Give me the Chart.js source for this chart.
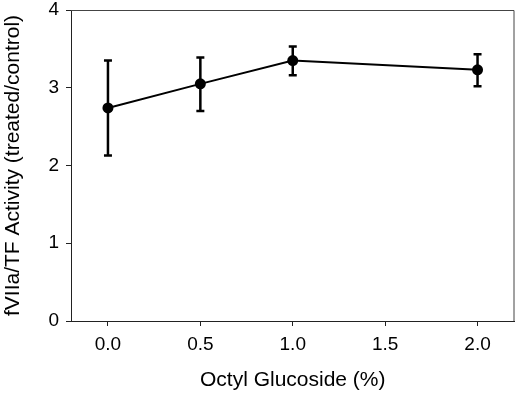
<!DOCTYPE html>
<html>
<head>
<meta charset="utf-8">
<script src="https://cdn.jsdelivr.net/npm/chart.js@4/dist/chart.umd.min.js"></script>
<style>
  html, body { margin: 0; padding: 0; background: #fff; }
  #wrap { width: 520px; height: 395px; }
</style>
</head>
<body>
<div id="wrap"><canvas id="chart" width="520" height="395"></canvas></div>
<script>
// octyl glucoside concentration (%)
const concentrations = [0.0, 0.5, 1.0, 2.0];
const activity = [2.74, 3.05, 3.35, 3.23];
const errLow = [2.13, 2.70, 3.16, 3.02];
const errHigh = [3.35, 3.39, 3.53, 3.43];

const xTicks = [0.0, 0.5, 1.0, 1.5, 2.0];
const yTicks = [0, 1, 2, 3, 4];

const errorBars = {
  id: 'errorBars',
  beforeDatasetsDraw(chart) {
    const { ctx, scales: { x, y } } = chart;
    ctx.save();
    ctx.strokeStyle = '#000';
    ctx.lineWidth = 2.5;
    concentrations.forEach((c, i) => {
      const px = x.getPixelForValue(c);
      const top = y.getPixelForValue(errHigh[i]);
      const bot = y.getPixelForValue(errLow[i]);
      ctx.beginPath();
      ctx.moveTo(px, top);
      ctx.lineTo(px, bot);
      ctx.moveTo(px - 4, top);
      ctx.lineTo(px + 4, top);
      ctx.moveTo(px - 4, bot);
      ctx.lineTo(px + 4, bot);
      ctx.stroke();
    });
    ctx.restore();
  },
  afterDraw(chart) {
    // top and right edges of the frame
    const { ctx, chartArea: a } = chart;
    ctx.save();
    ctx.strokeStyle = '#444';
    ctx.lineWidth = 1;
    ctx.beginPath();
    ctx.moveTo(a.left, a.top + 0.5);
    ctx.lineTo(a.right - 0.5, a.top + 0.5);
    ctx.lineTo(a.right - 0.5, a.bottom);
    ctx.stroke();
    ctx.restore();
  }
};

new Chart(document.getElementById('chart'), {
  type: 'line',
  data: {
    datasets: [{
      data: concentrations.map((c, i) => ({ x: c, y: activity[i] })),
      borderColor: '#000',
      borderWidth: 2,
      pointRadius: 5.5,
      pointBackgroundColor: '#000',
      pointBorderColor: '#000',
      pointBorderWidth: 0,
      tension: 0
    }]
  },
  options: {
    responsive: false,
    animation: false,
    layout: { padding: { top: 10, right: 3, left: 0, bottom: 0 } },
    plugins: { legend: { display: false }, tooltip: { enabled: false } },
    scales: {
      x: {
        type: 'linear',
        min: -0.2,
        max: 2.2,
        afterBuildTicks: (s) => { s.ticks = xTicks.map(v => ({ value: v })); },
        afterFit: (s) => { s.height = 74; },
        grid: { drawOnChartArea: false, drawTicks: true, tickLength: 5, color: '#222' },
        border: { display: true, color: '#222', width: 1 },
        ticks: {
          color: '#000',
          padding: 7,
          font: { family: 'Liberation Sans, Arial, sans-serif', size: 19 },
          callback: (v) => Number(v).toFixed(1)
        },
        title: {
          display: true,
          text: 'Octyl Glucoside (%)',
          color: '#000',
          padding: { top: 0, bottom: 2 },
          font: { family: 'Liberation Sans, Arial, sans-serif', size: 21 }
        }
      },
      y: {
        type: 'linear',
        min: 0,
        max: 4,
        afterBuildTicks: (s) => { s.ticks = yTicks.map(v => ({ value: v })); },
        afterFit: (s) => { s.width = 71; },
        grid: { drawOnChartArea: false, drawTicks: true, tickLength: 5, color: '#222' },
        border: { display: true, color: '#222', width: 1 },
        ticks: {
          color: '#000',
          padding: 7,
          font: { family: 'Liberation Sans, Arial, sans-serif', size: 19, lineHeight: 0.3 }
        },
        title: {
          display: true,
          text: 'fVIIa/TF Activity (treated/control)',
          color: '#000',
          padding: { top: 1, bottom: 0 },
          font: { family: 'Liberation Sans, Arial, sans-serif', size: 21 }
        }
      }
    }
  },
  plugins: [errorBars]
});
</script>
</body>
</html>
